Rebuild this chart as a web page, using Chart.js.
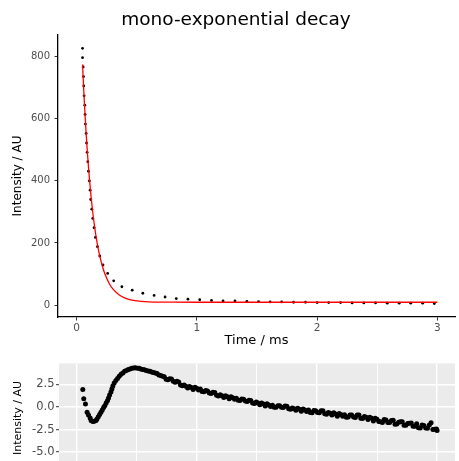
<!DOCTYPE html>
<html>
<head>
<meta charset="utf-8">
<script src="https://cdn.jsdelivr.net/npm/chart.js@4"></script>
<style>
  html, body { margin: 0; padding: 0; background: #fff; overflow: hidden; }
  #wrap { position: relative; width: 459px; height: 461px; overflow: hidden; }
  #top { position: absolute; left: 0; top: 0; }
  #bottom { position: absolute; left: 0; top: 355px; }
</style>
</head>
<body>
<div id="wrap">
  <canvas id="top" width="459" height="355"></canvas>
  <canvas id="bottom" width="459" height="126"></canvas>
</div>
<script>
const chartTitle = 'mono-exponential decay';
const xTitle = 'Time / ms';
const yTitle = 'Intensity / AU';

// measured decay (black dots)
const decayTime = [0.050, 0.050, 0.055, 0.058, 0.060, 0.063, 0.069, 0.071, 0.074, 0.080,
  0.083, 0.088, 0.094, 0.099, 0.107, 0.113, 0.118, 0.127, 0.135, 0.146,
  0.157, 0.174, 0.193, 0.220, 0.259, 0.309, 0.377, 0.463, 0.551, 0.645,
  0.736, 0.829, 0.926, 1.024, 1.122, 1.218, 1.317, 1.416, 1.513, 1.609,
  1.705, 1.804, 1.903, 2.000, 2.096, 2.195, 2.291, 2.388, 2.486, 2.583,
  2.682, 2.778, 2.877, 2.974];
const decayIntensity = [827, 797, 767, 736, 706, 674, 644, 614, 583, 553,
  522, 492, 462, 431, 400, 370, 340, 309, 279, 249,
  218, 188, 158, 129, 102, 78, 59, 48, 38, 31,
  26, 21, 19, 17, 15, 13, 13, 12, 11, 10,
  10, 9, 9, 8, 8, 8, 7, 7, 7, 6,
  6, 6, 6, 5];

// fitted curve (red line)
const fitTime = [0.05, 0.06, 0.07, 0.08, 0.09, 0.10, 0.11, 0.12, 0.13, 0.14,
  0.15, 0.165, 0.18, 0.20, 0.225, 0.25, 0.275, 0.30, 0.35, 0.40,
  0.45, 0.50, 0.60, 0.70, 0.80, 1.0, 1.5, 2.0, 2.5, 3.0];
const fitIntensity = [775, 692, 618, 552, 494, 441, 395, 353, 316, 282,
  253, 214, 182, 147, 112, 87, 67, 53, 34, 23,
  17, 13.5, 10.5, 9.5, 9.2, 9, 9, 9, 9, 9];

// lower panel
const residTime = [0.052, 0.060, 0.074, 0.088, 0.099, 0.113, 0.121, 0.135, 0.148, 0.162,
  0.170, 0.181, 0.192, 0.203, 0.214, 0.225, 0.236, 0.247, 0.258, 0.266,
  0.275, 0.286, 0.294, 0.302, 0.313, 0.327, 0.341,
  0.355, 0.370, 0.385, 0.400, 0.415, 0.430, 0.445, 0.460, 0.475, 0.490,
  0.505, 0.520, 0.535, 0.550, 0.565, 0.580, 0.595, 0.610, 0.625, 0.640,
  0.655, 0.670, 0.685, 0.700, 0.715,
  0.73, 0.76, 0.79, 0.82, 0.85, 0.88, 0.91, 0.94, 0.97, 1.00,
  1.03, 1.06, 1.09, 1.12, 1.15, 1.18, 1.21, 1.24, 1.27, 1.30,
  1.33, 1.36, 1.39, 1.42, 1.45, 1.48, 1.51, 1.54, 1.57, 1.60,
  1.63, 1.66, 1.69, 1.72, 1.75, 1.78, 1.81, 1.84, 1.87, 1.90,
  1.93, 1.96, 1.99, 2.02, 2.05, 2.08, 2.11, 2.14, 2.17, 2.20,
  2.23, 2.26, 2.29, 2.32, 2.35, 2.38, 2.41, 2.44, 2.47, 2.50,
  2.53, 2.56, 2.59, 2.62, 2.65, 2.68, 2.71, 2.74, 2.77, 2.80,
  2.83, 2.86, 2.89, 2.92, 2.95, 2.98, 3.00];
const residValue = [1.93, 0.90, 0.33, -0.57, -0.90, -1.23, -1.50, -1.60, -1.57, -1.50,
  -1.33, -1.07, -0.83, -0.57, -0.33, -0.07, 0.17, 0.47, 0.73, 1.00,
  1.33, 1.67, 2.00, 2.33, 2.67, 2.93, 3.17,
  3.40, 3.62, 3.78, 3.95, 4.05, 4.15, 4.22, 4.30, 4.33, 4.36,
  4.30, 4.28, 4.22, 4.15, 4.12, 4.05, 3.98, 3.95, 3.88, 3.82,
  3.78, 3.70, 3.55, 3.48, 3.40,
  3.36, 3.02, 3.09, 2.75, 2.77, 2.34, 2.30, 2.28, 1.95, 2.07,
  2.00, 1.68, 1.77, 1.50, 1.60, 1.23, 1.25, 1.25, 0.91, 1.02,
  0.98, 0.72, 0.86, 0.60, 0.73, 0.40, 0.43, 0.45, 0.12, 0.23,
  0.18, -0.04, 0.14, -0.05, 0.08, -0.25, -0.19, -0.15, -0.46, -0.32,
  -0.34, -0.65, -0.41, -0.65, -0.42, -0.80, -0.69, -0.65, -1.02, -0.84,
  -0.86, -1.12, -0.88, -1.16, -0.88, -1.28, -1.13, -1.14, -1.54, -1.37,
  -1.64, -1.40, -1.72, -1.51, -1.90, -1.69, -1.63, -2.01, -1.80, -2.13,
  -1.85, -2.32, -2.06, -2.35, -1.75, -2.47, -2.60];
// in-between samples of the lower panel
const residTime2 = [0.745, 0.775, 0.805, 0.835, 0.865, 0.895, 0.925, 0.955, 0.985, 1.015,
  1.045, 1.075, 1.105, 1.135, 1.165, 1.195, 1.225, 1.255, 1.285, 1.315,
  1.345, 1.375, 1.405, 1.435, 1.465, 1.495, 1.525, 1.555, 1.585, 1.615,
  1.645, 1.675, 1.705, 1.735, 1.765, 1.795, 1.825, 1.855, 1.885, 1.915,
  1.945, 1.975, 2.005, 2.035, 2.065, 2.095, 2.125, 2.155, 2.185, 2.215,
  2.245, 2.275, 2.305, 2.335, 2.365, 2.395, 2.425, 2.455, 2.485, 2.515,
  2.545, 2.575, 2.605, 2.635, 2.665, 2.695, 2.725, 2.755, 2.785, 2.815,
  2.845, 2.875, 2.905, 2.935, 2.965, 2.995];
const residValue2 = [3.08, 3.14, 2.84, 2.85, 2.44, 2.44, 2.10, 2.16, 2.18, 1.89,
  1.73, 1.82, 1.55, 1.64, 1.30, 1.36, 1.06, 1.13, 1.14, 0.86,
  0.74, 0.88, 0.65, 0.76, 0.45, 0.54, 0.25, 0.33, 0.35, 0.06,
  -0.04, 0.14, -0.04, 0.11, -0.20, -0.10, -0.36, -0.26, -0.22, -0.49,
  -0.62, -0.40, -0.61, -0.43, -0.75, -0.61, -0.90, -0.77, -0.73, -1.03,
  -1.13, -0.90, -1.11, -0.89, -1.25, -1.06, -1.40, -1.26, -1.26, -1.61,
  -1.73, -1.45, -1.72, -1.48, -1.88, -1.64, -2.01, -1.82, -1.78, -2.14,
  -2.31, -2.00, -2.32, -1.99, -2.50, -2.44];

const topXTicks = [0, 1, 2, 3];
const topYTicks = [0, 200, 400, 600, 800];
const resXTicks = [0, 0.5, 1, 1.5, 2, 2.5, 3];
const resYTicks = [-7.5, -6.25, -5, -3.75, -2.5, -1.25, 0, 1.25, 2.5, 3.75];

const FONT = "'DejaVu Sans', sans-serif";
Chart.defaults.font.family = FONT;

const toPoints = (xs, ys) => xs.map((x, i) => ({ x: x, y: ys[i] }));
const fixTicks = list => scale => { scale.ticks = list.map(v => ({ value: v })); };
const isMajor = (v, step) => Math.abs(v / step - Math.round(v / step)) < 1e-6;

const titlePlugin = {
  id: 'plotTitle',
  afterDraw(chart) {
    const c = chart.ctx;
    c.save();
    c.font = '18.5px ' + FONT;
    c.fillStyle = '#000';
    c.textAlign = 'center';
    c.textBaseline = 'alphabetic';
    c.fillText(chartTitle, 236, 25);
    c.restore();
  }
};

const panelBg = {
  id: 'panelBg',
  beforeDraw(chart) {
    const { ctx, chartArea: a } = chart;
    ctx.save();
    ctx.fillStyle = '#EBEBEB';
    ctx.fillRect(a.left, a.top, a.right - a.left, a.bottom - a.top);
    ctx.restore();
  }
};

new Chart(document.getElementById('top'), {
  type: 'scatter',
  data: {
    datasets: [
      {
        data: toPoints(fitTime, fitIntensity),
        showLine: true,
        borderColor: '#FF0000',
        borderWidth: 1.3,
        pointRadius: 0,
        cubicInterpolationMode: 'monotone',
        order: 0
      },
      {
        data: toPoints(decayTime, decayIntensity),
        pointRadius: 1.4,
        pointBackgroundColor: '#000',
        pointBorderWidth: 0,
        order: 1
      }
    ]
  },
  options: {
    responsive: false,
    animation: false,
    devicePixelRatio: 1,
    layout: { padding: { top: 35, right: 1, left: 0, bottom: 0 } },
    plugins: { legend: { display: false }, tooltip: { enabled: false } },
    scales: {
      x: {
        type: 'linear',
        min: -0.154,
        max: 3.146,
        afterBuildTicks: fixTicks(topXTicks),
        afterFit: s => { s.height = 38; },
        ticks: { color: '#4D4D4D', font: { size: 10.5 }, padding: 1, maxRotation: 0 },
        grid: { drawOnChartArea: false, tickLength: 3.5, tickColor: '#333', color: '#333' },
        border: { display: true, color: '#000', width: 1.3 },
        title: { display: true, text: xTitle, color: '#000', font: { size: 13 }, padding: { top: 0, bottom: 7 } }
      },
      y: {
        min: -38.5,
        max: 870,
        afterBuildTicks: fixTicks(topYTicks),
        afterFit: s => { s.width = 58; },
        ticks: { color: '#4D4D4D', font: { size: 10 }, padding: 4.5 },
        grid: { drawOnChartArea: false, tickLength: 3.5, tickColor: '#333', color: '#333' },
        border: { display: true, color: '#000', width: 1.3 },
        title: { display: true, text: yTitle, color: '#000', font: { size: 12 }, padding: { top: 11, bottom: 0 } }
      }
    }
  },
  plugins: [titlePlugin]
});

new Chart(document.getElementById('bottom'), {
  type: 'scatter',
  data: {
    datasets: [
      {
        data: toPoints(residTime, residValue),
        pointRadius: 2.5,
        pointBackgroundColor: '#000',
        pointBorderWidth: 0
      },
      {
        data: toPoints(residTime2, residValue2),
        pointRadius: 2.5,
        pointBackgroundColor: '#000',
        pointBorderWidth: 0
      }
    ]
  },
  options: {
    responsive: false,
    animation: false,
    devicePixelRatio: 1,
    layout: { padding: { top: 5, right: 0, left: 0, bottom: 0 } },
    plugins: { legend: { display: false }, tooltip: { enabled: false } },
    scales: {
      x: {
        type: 'linear',
        min: -0.146,
        max: 3.149,
        afterBuildTicks: fixTicks(resXTicks),
        afterFit: s => { s.height = 0; },
        ticks: { display: false },
        grid: {
          color: '#fff',
          drawTicks: false,
          lineWidth: c => (c.tick && isMajor(c.tick.value, 1)) ? 1.4 : 0.9
        },
        border: { display: false }
      },
      y: {
        min: -7.27,
        max: 4.83,
        afterBuildTicks: fixTicks(resYTicks),
        afterFit: s => { s.width = 59; },
        ticks: {
          color: '#4D4D4D',
          font: { size: 11.5 },
          padding: 1.5,
          callback: v => isMajor(v, 2.5) ? v.toFixed(1) : ''
        },
        grid: {
          color: '#fff',
          tickLength: 3,
          lineWidth: c => (c.tick && isMajor(c.tick.value, 2.5)) ? 1.4 : 0.8,
          tickColor: c => (c.tick && isMajor(c.tick.value, 2.5)) ? '#333' : 'rgba(0,0,0,0)',
          tickWidth: 1
        },
        border: { display: false },
        title: { display: true, text: yTitle, color: '#000', font: { size: 11 }, padding: { top: 12, bottom: 0 } }
      }
    }
  },
  plugins: [panelBg]
});
</script>
</body>
</html>
